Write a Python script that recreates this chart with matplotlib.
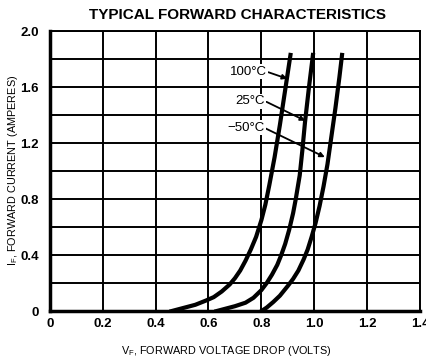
import matplotlib
matplotlib.use("Agg")
import matplotlib.pyplot as plt
import numpy as np

plt.rcParams['font.family'] = ['Liberation Sans', 'DejaVu Sans']

# forward characteristic curves (volts, amperes)
vf_100 = [0.46, 0.48, 0.51, 0.55, 0.59, 0.62, 0.65, 0.68, 0.70, 0.72, 0.74, 0.76,
          0.78, 0.80, 0.815, 0.83, 0.85, 0.87, 0.89, 0.91]
if_100 = [0.00, 0.01, 0.025, 0.045, 0.075, 0.10, 0.14, 0.19, 0.235, 0.29, 0.36, 0.44,
          0.53, 0.65, 0.76, 0.90, 1.10, 1.33, 1.58, 1.83]

vf_25 = [0.63, 0.66, 0.70, 0.74, 0.77, 0.80, 0.82, 0.84, 0.86, 0.875, 0.89, 0.905,
         0.92, 0.93, 0.945, 0.955, 0.965, 0.98, 0.995]
if_25 = [0.00, 0.015, 0.035, 0.06, 0.095, 0.15, 0.20, 0.26, 0.33, 0.40, 0.48, 0.58,
         0.70, 0.80, 0.97, 1.15, 1.35, 1.60, 1.83]

vf_m50 = [0.80, 0.82, 0.845, 0.87, 0.90, 0.92, 0.94, 0.96, 0.975, 0.99, 1.005, 1.02,
          1.035, 1.05, 1.065, 1.08, 1.095, 1.105]
if_m50 = [0.00, 0.025, 0.065, 0.11, 0.18, 0.23, 0.29, 0.37, 0.44, 0.53, 0.63, 0.75,
          0.89, 1.05, 1.25, 1.45, 1.67, 1.83]

x_ticks = [0, 0.2, 0.4, 0.6, 0.8, 1.0, 1.2, 1.4]
x_labels = ['0', '0.2', '0.4', '0.6', '0.8', '1.0', '1.2', '1.4']
y_ticks = [0, 0.4, 0.8, 1.2, 1.6, 2.0]
y_labels = ['0', '0.4', '0.8', '1.2', '1.6', '2.0']

fig = plt.figure(figsize=(4.26, 3.58), dpi=100)
ax = fig.add_axes([0.117, 0.131, 0.869, 0.782])

for v, i in [(vf_100, if_100), (vf_25, if_25), (vf_m50, if_m50)]:
    ax.plot(v, i, color='black', lw=3.0, solid_joinstyle='round', zorder=3)

ax.set_xlim(0, 1.4)
ax.set_ylim(0, 2.0)
ax.set_xticks(x_ticks)
ax.set_xticklabels(x_labels)
ax.set_yticks(y_ticks)
ax.set_yticklabels(y_labels)
ax.set_yticks(np.arange(0, 2.01, 0.2), minor=True)
ax.grid(True, which='both', color='black', lw=1.4)
ax.tick_params(which='both', length=0, labelsize=9.5)
ax.tick_params(axis='x', pad=5)
ax.tick_params(axis='y', pad=8)
for lab in ax.get_xticklabels() + ax.get_yticklabels():
    lab.set_fontweight('bold')

for side in ['left', 'bottom']:
    ax.spines[side].set_linewidth(2.5)
for side in ['top', 'right']:
    ax.spines[side].set_linewidth(1.4)

# temperature labels with leader arrows
notes = [('100°C', (0.751, 1.71), (0.898, 1.66)),
         ('25°C', (0.758, 1.50), (0.966, 1.36)),
         ('\u221250°C', (0.74, 1.31), (1.04, 1.10))]
for txt, xytext, xy in notes:
    ax.annotate(txt, xy=xy, xytext=xytext, ha='center', va='center',
                fontsize=9.5,
                bbox=dict(fc='white', ec='none', pad=1.0),
                arrowprops=dict(arrowstyle='-|>', color='black', lw=1.3,
                                mutation_scale=7, shrinkA=0, shrinkB=0,
                                relpos=(1.0, 0.5)),
                zorder=4)

fig.text(238 / 426, 1 - 15 / 358, 'TYPICAL FORWARD CHARACTERISTICS',
         fontsize=11, fontweight='bold', ha='center', va='center')
fig.text(226 / 426, 1 - 351 / 358, 'V$_\\mathregular{F}$, FORWARD VOLTAGE DROP (VOLTS)',
         fontsize=7.8, ha='center', va='center')
fig.text(13 / 426, 1 - 170 / 358, 'I$_\\mathregular{F}$, FORWARD CURRENT (AMPERES)',
         fontsize=7.8, ha='center', va='center', rotation=90)

fig.savefig('out.png', dpi=100)
